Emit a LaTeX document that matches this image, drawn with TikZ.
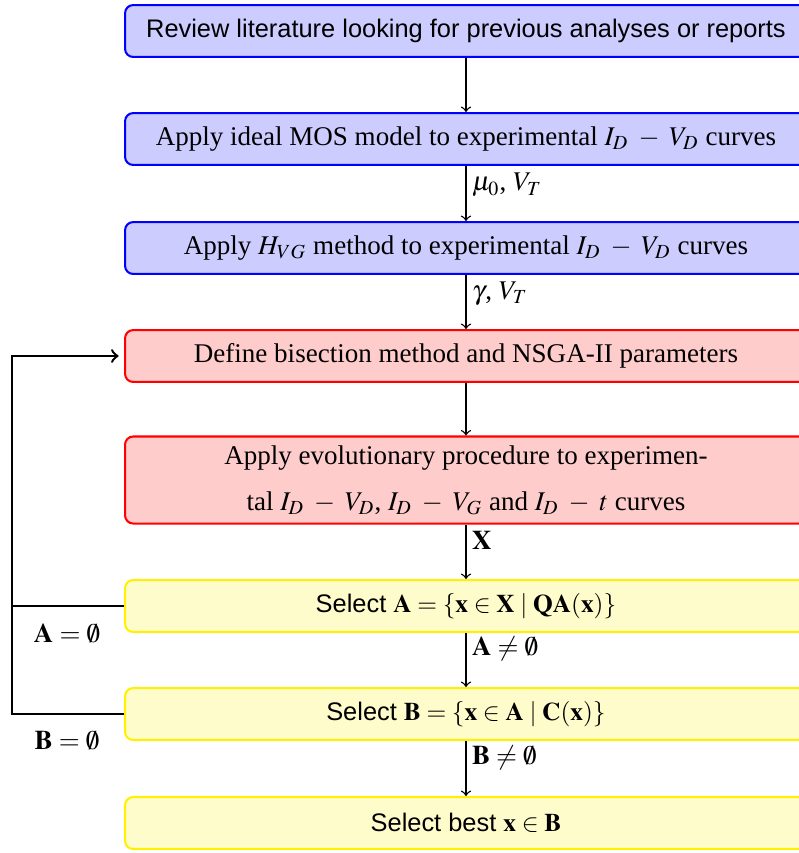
\documentclass[tikz,border=0pt]{standalone}
\usepackage{mathptmx}
\usepackage[no-math]{fontspec}
\setmainfont{Liberation Serif}
\setsansfont{Liberation Sans}
\begin{document}
\begin{tikzpicture}[x=0.37pt,y=-0.37pt,
  box/.style={draw, rounded corners=3pt, line width=0.75pt, minimum width=252.3pt, minimum height=19.2pt, align=center, inner sep=2pt},
  bluebox/.style={box, draw=blue, fill=blue!20},
  redbox/.style={box, draw=red, fill=red!20},
  yelbox/.style={box, draw=yellow, fill=yellow!20, font=\sffamily\fontsize{9.4}{11}\selectfont},
  flow/.style={->, line width=0.5pt},
  fb/.style={->, line width=0.9pt},
  lab/.style={right, inner sep=2pt}]
\useasboundingbox (0,0) rectangle (799,853);
\clip (0,0) rectangle (799,853);
\node[bluebox, font=\sffamily\fontsize{9.4}{11}\selectfont] (b1) at (466,31) {Review literature looking for previous analyses or reports};
\node[bluebox] (b2) at (466,139) {Apply ideal MOS model to experimental $I_D\;-\;V_D$ curves};
\node[bluebox] (b3) at (466,248) {Apply $H_{VG}$ method to experimental $I_D\;-\;V_D$ curves};
\node[redbox] (b4) at (466,356) {Define bisection method and NSGA-II parameters};
\node[redbox, minimum height=32.2pt] (b5) at (466,480) {Apply evolutionary procedure to experimen-\\[5pt]tal $I_D\;-\;V_D$, $I_D\;-\;V_G$ and $I_D\;-\;t$ curves};
\node[yelbox] (b6) at (466,606) {Select $\mathbf{A}=\{\mathbf{x}\in\mathbf{X}\mid\mathbf{QA}(\mathbf{x})\}$};
\node[yelbox] (b7) at (466,714) {Select $\mathbf{B}=\{\mathbf{x}\in\mathbf{A}\mid\mathbf{C}(\mathbf{x})\}$};
\node[yelbox] (b8) at (466,823) {Select best $\mathbf{x}\in\mathbf{B}$};

\draw[flow] (b1) -- (b2);
\draw[flow] (b2) -- node[lab, pos=0.35] {$\mu_0$, $V_T$} (b3);
\draw[flow] (b3) -- node[lab, pos=0.35] {$\gamma$, $V_T$} (b4);
\draw[flow] (b4) -- (b5);
\draw[flow] (b5) -- node[lab, pos=0.3] {$\mathbf{X}$} (b6);
\draw[flow] (b6) -- node[lab, pos=0.3] {$\mathbf{A}\neq\emptyset$} (b7);
\draw[flow] (b7) -- node[lab, pos=0.3] {$\mathbf{B}\neq\emptyset$} (b8);

\coordinate (L) at (12,356);
\draw[fb, shorten >=2pt] (b6.west) -| (L) -- (b4.west);
\draw[line width=0.9pt] (b7.west) -| (L);
\node (la) at (67,633) {$\mathbf{A}=\emptyset$};
\node (lb) at (67,741) {$\mathbf{B}=\emptyset$};
\end{tikzpicture}
\end{document}
